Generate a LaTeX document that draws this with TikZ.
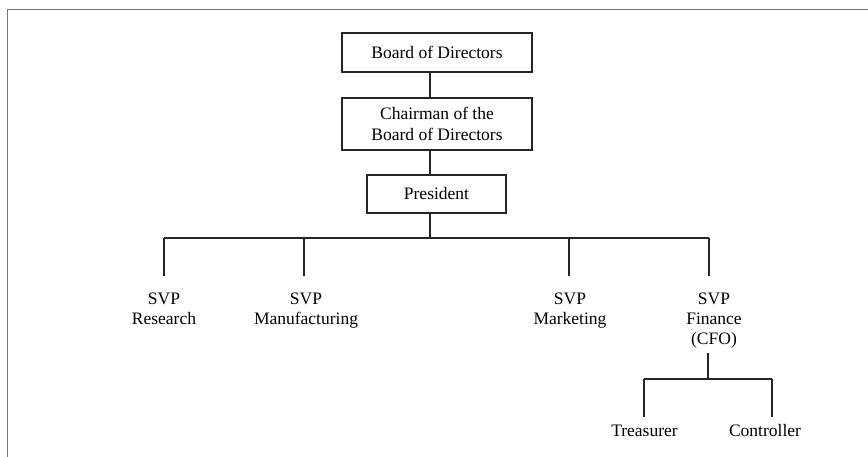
\documentclass[tikz,border=0pt]{standalone}
\usepackage{fontspec}
\setmainfont{Liberation Serif}
\begin{document}
\begin{tikzpicture}[x=1pt,y=-1pt,
  ink/.style={draw=black!85, line width=1.5pt},
  box/.style={ink, rectangle, inner sep=0pt, text=black, font=\fontsize{17.5}{21}\selectfont, align=center},
  lbl/.style={inner sep=0pt, text=black, font=\fontsize{17.5}{20}\selectfont, align=center},
  conn/.style={ink}]
\useasboundingbox (0,0) rectangle (868,457);
% frame of the scan
\draw[draw=black!55, line width=1.6pt] (7.5,457) -- (7.5,9.5) -- (868,9.5);
% boxes
\node[box, minimum width=190pt, minimum height=39pt] (board) at (437,52.5) {Board of Directors};
\node[box, minimum width=190pt, minimum height=52pt] (chair) at (437,124) {Chairman of the\\Board of Directors};
\node[box, minimum width=139pt, minimum height=38pt] (pres) at (436.5,194) {President};
% labels
\node[lbl, anchor=north] (res) at (164,292.5) {SVP\\Research};
\node[lbl, anchor=north] (man) at (306,292.5) {SVP\\Manufacturing};
\node[lbl, anchor=north] (mkt) at (570,292.5) {SVP\\Marketing};
\node[lbl, anchor=north] (fin) at (714,292.5) {SVP\\Finance\\(CFO)};
\node[lbl, anchor=base] (tre) at (644.5,436) {Treasurer};
\node[lbl, anchor=base] (con) at (765,436) {Controller};
% spine and buses
\coordinate (spine) at (430,0);
\coordinate (busL) at (164,238);
\coordinate (busR) at (709,238);
\coordinate (vres) at (164,276);
\coordinate (vman) at (304,276);
\coordinate (vmkt) at (569,276);
\coordinate (vfin) at (709,276);
\coordinate (cfo) at (708,353);
\coordinate (sbus) at (708,379);
\coordinate (sL) at (644,379);
\coordinate (sR) at (772,379);
\coordinate (vtre) at (644,417);
\coordinate (vcon) at (772,417);
% connectors
\draw[conn] (board.south -| spine) -- (chair.north -| spine);
\draw[conn] (chair.south -| spine) -- (pres.north -| spine);
\draw[conn] (pres.south -| spine) -- (spine |- busL);
\draw[conn] (busL) -- (busR);
\draw[conn] (busL) -- (vres);
\draw[conn] (vman |- busL) -- (vman);
\draw[conn] (vmkt |- busL) -- (vmkt);
\draw[conn] (busR) -- (vfin);
\draw[conn] (cfo) -- (sbus);
\draw[conn] (sL) -- (sR);
\draw[conn] (sL) -- (vtre);
\draw[conn] (sR) -- (vcon);
\end{tikzpicture}
\end{document}
